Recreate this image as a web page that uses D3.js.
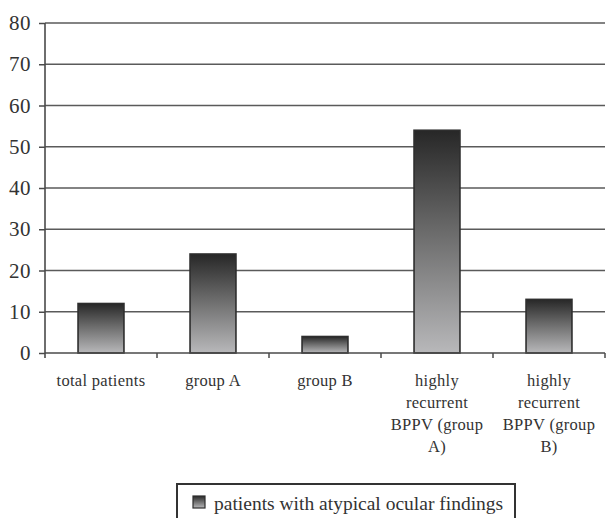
<!DOCTYPE html>
<html><head><meta charset="utf-8">
<script src="https://cdn.jsdelivr.net/npm/d3@7"></script>
<style>body{margin:0;background:#fff}svg{display:block}</style>
</head><body>
<svg id="c" width="606" height="518" font-family="Liberation Serif"></svg>
<script>
const categories = ["total patients", "group A", "group B", "highly recurrent BPPV (group A)", "highly recurrent BPPV (group B)"];
const categoryLines = [["total patients"], ["group A"], ["group B"], ["highly", "recurrent", "BPPV (group", "A)"], ["highly", "recurrent", "BPPV (group", "B)"]];
const values = [12, 24, 4, 54, 13];
const yTicks = [0, 10, 20, 30, 40, 50, 60, 70, 80];
const seriesName = "patients with atypical ocular findings";

(function () {
const svg = d3.select("#c");
const pL = 45, pR = 605, pT = 23, pB = 353;
const x = d3.scaleBand().domain(categories).range([pL, pR]).paddingInner(0.59).paddingOuter(0.295);
const y = d3.scaleLinear().domain([0, 80]).range([pB, pT]);
const FONT = "Liberation Serif";

const defs = svg.append("defs");
const g = defs.append("linearGradient").attr("id", "bg").attr("x1", 0).attr("y1", 0).attr("x2", 0).attr("y2", 1);
g.append("stop").attr("offset", "0%").attr("stop-color", "#272727");
g.append("stop").attr("offset", "45%").attr("stop-color", "#6a6a6a");
g.append("stop").attr("offset", "100%").attr("stop-color", "#b8b8ba");

// gridlines
svg.append("g").selectAll("line").data(yTicks.filter(d => d > 0)).join("line")
  .attr("x1", pL).attr("x2", pR).attr("y1", d => y(d)).attr("y2", d => y(d))
  .attr("stroke", "#5a5a5a").attr("stroke-width", 1.5);

// bars
svg.append("g").selectAll("rect").data(values).join("rect")
  .attr("x", (d, i) => x(categories[i]))
  .attr("y", d => y(d))
  .attr("width", x.bandwidth())
  .attr("height", d => y(0) - y(d))
  .attr("fill", "url(#bg)").attr("stroke", "#2e2e2e").attr("stroke-width", 1.6);

// y axis
const yAxis = svg.append("g").attr("transform", `translate(${pL},0)`)
  .call(d3.axisLeft(y).tickValues(yTicks).tickSize(6).tickPadding(8))
  .attr("font-family", FONT).attr("font-size", 21);
yAxis.select(".domain").attr("stroke", "#4a4a4a").attr("stroke-width", 1.6).attr("d", `M0,${pT}V${pB + 5}`);
yAxis.selectAll(".tick line").attr("stroke", "#4a4a4a").attr("stroke-width", 1.5);
yAxis.selectAll(".tick text").attr("font-family", FONT).attr("font-size", 21).attr("fill", "#333")
  .attr("letter-spacing", 0.5);

// x axis
const xAxis = svg.append("g").attr("transform", `translate(0,${pB})`);
xAxis.append("line").attr("x1", pL).attr("x2", pR).attr("y1", 0).attr("y2", 0)
  .attr("stroke", "#4a4a4a").attr("stroke-width", 1.6);
const bounds = categories.map(c => x(c) - x.step() * x.paddingInner() / 2 + x.step());
xAxis.selectAll("line.t").data(bounds).join("line").attr("class", "t")
  .attr("x1", d => d).attr("x2", d => d).attr("y1", 0).attr("y2", 5)
  .attr("stroke", "#4a4a4a").attr("stroke-width", 1.5);

const labels = svg.append("g").attr("font-family", FONT).attr("font-size", 16.5);
categoryLines.forEach((lines, i) => {
  const cx = x(categories[i]) + x.bandwidth() / 2;
  const t = labels.append("text").attr("x", cx).attr("y", 386)
    .attr("font-family", FONT).attr("font-size", 16.5).attr("letter-spacing", 0.3)
    .attr("fill", "#333").attr("text-anchor", "middle");
  lines.forEach((l, j) => t.append("tspan").attr("x", cx).attr("dy", j === 0 ? 0 : 22).text(l));
});

// legend
const lg = svg.append("g");
lg.append("rect").attr("x", 177).attr("y", 484).attr("width", 338).attr("height", 40)
  .attr("fill", "#fff").attr("stroke", "#333").attr("stroke-width", 2);
lg.append("rect").attr("x", 193).attr("y", 496).attr("width", 12).attr("height", 12)
  .attr("fill", "url(#bg)").attr("stroke", "#2e2e2e").attr("stroke-width", 1.2);
lg.append("text").attr("x", 214).attr("y", 510).attr("font-family", FONT)
  .attr("font-size", 19.5).attr("fill", "#333").text(seriesName);
})();
</script>
</body></html>
